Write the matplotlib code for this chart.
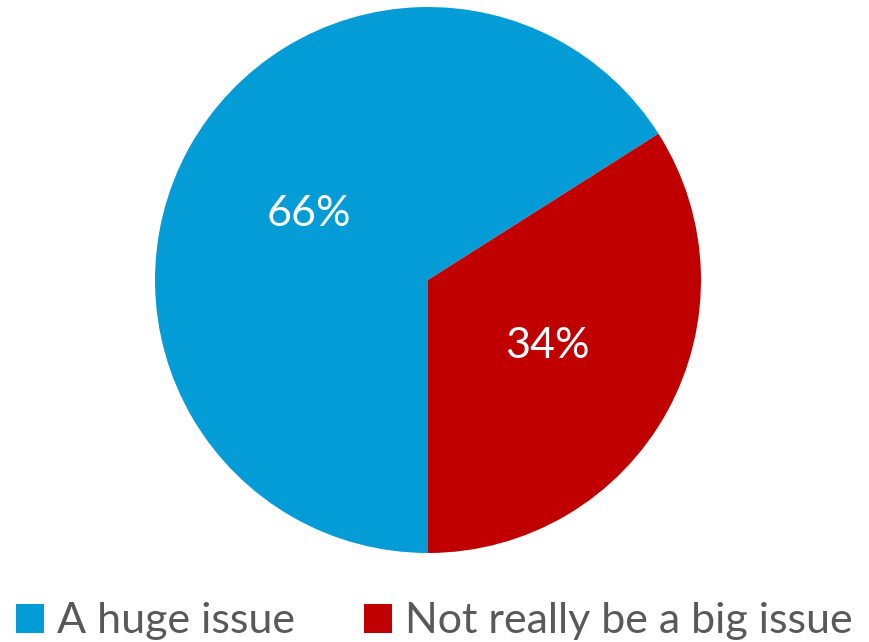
import matplotlib
matplotlib.use("Agg")
import matplotlib.pyplot as plt
from matplotlib.patches import Patch

labels = ["A huge issue", "Not really be a big issue"]
values = [66, 34]
colors = ["#039CD7", "#C00000"]

plt.rcParams['font.family'] = ['Lato', 'DejaVu Sans']

fig = plt.figure(figsize=(8.69, 6.42), dpi=100)
ax = fig.add_axes([155 / 869, 89 / 642, 546 / 869, 546 / 642])

wedges, texts, autotexts = ax.pie(
    values, colors=colors, startangle=32.4, counterclock=True,
    autopct='%1.0f%%', pctdistance=0.5, radius=1.0,
    textprops={'color': 'white', 'fontsize': 31})
ax.set_xlim(-1, 1)
ax.set_ylim(-1, 1)
ax.set_aspect('equal')
ax.axis('off')

handles = [Patch(facecolor=c, edgecolor='none') for c in colors]
fig.legend(handles, labels, loc='lower center', bbox_to_anchor=(0.5, -0.058),
           ncol=2, frameon=False, fontsize=31, labelcolor='#595959',
           handlelength=0.65, handleheight=0.65, handletextpad=0.3,
           columnspacing=1.6)

fig.savefig("out.png", dpi=100)
